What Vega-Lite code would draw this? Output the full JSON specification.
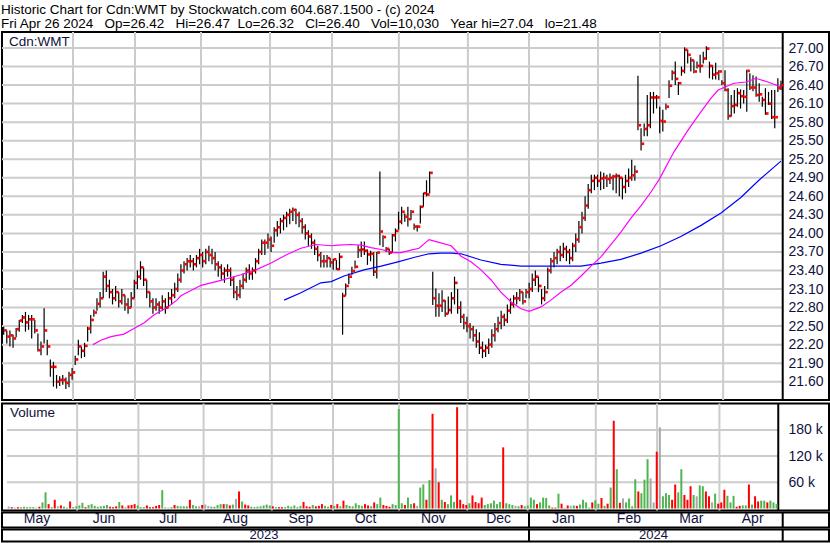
{
"$schema": "https://vega.github.io/schema/vega-lite/v6.json",
"background": "white",
"padding": {"left": 0, "top": 2, "right": 1, "bottom": 0},
"title": {"text": ["Historic Chart for Cdn:WMT by Stockwatch.com 604.687.1500 - (c) 2024", "Fri Apr 26 2024\u00a0\u00a0\u00a0Op=26.42\u00a0\u00a0\u00a0Hi=26.47\u00a0\u00a0Lo=26.32\u00a0\u00a0\u00a0Cl=26.40\u00a0\u00a0\u00a0Vol=10,030\u00a0\u00a0\u00a0Year hi=27.04\u00a0\u00a0\u00a0lo=21.48"], "anchor": "start", "font": "Liberation Sans", "fontSize": 13.5, "fontWeight": "normal", "color": "#000000", "lineHeight": 14, "offset": 0, "dx": 1},
"datasets": {
"p": [
{"t":1,"h":22.49,"l":22.36,"c":22.43,"v":4600,"k":"n"},
{"t":2,"h":22.43,"l":22.22,"c":22.33,"v":3000,"k":"d"},
{"t":3,"h":22.43,"l":22.17,"c":22.35,"v":2000,"k":"n"},
{"t":4,"h":22.36,"l":22.15,"c":22.30,"v":3000,"k":"d"},
{"t":5,"h":22.47,"l":22.32,"c":22.45,"v":3000,"k":"u"},
{"t":6,"h":22.60,"l":22.41,"c":22.59,"v":4000,"k":"u"},
{"t":7,"h":22.68,"l":22.55,"c":22.64,"v":3000,"k":"u"},
{"t":8,"h":22.73,"l":22.41,"c":22.56,"v":3000,"k":"u"},
{"t":9,"h":22.68,"l":22.44,"c":22.61,"v":3000,"k":"u"},
{"t":10,"h":22.68,"l":22.30,"c":22.61,"v":2000,"k":"n"},
{"t":11,"h":22.60,"l":22.38,"c":22.43,"v":4000,"k":"d"},
{"t":12,"h":22.38,"l":22.09,"c":22.11,"v":14000,"k":"u"},
{"t":13,"h":22.25,"l":22.03,"c":22.17,"v":37000,"k":"u"},
{"t":14,"h":22.79,"l":22.22,"c":22.43,"v":10000,"k":"d"},
{"t":15,"h":22.28,"l":22.03,"c":22.17,"v":3000,"k":"u"},
{"t":16,"h":21.96,"l":21.68,"c":21.84,"v":20000,"k":"d"},
{"t":17,"h":21.92,"l":21.52,"c":21.84,"v":5000,"k":"n"},
{"t":18,"h":21.71,"l":21.49,"c":21.60,"v":7000,"k":"d"},
{"t":19,"h":21.69,"l":21.53,"c":21.63,"v":4000,"k":"u"},
{"t":20,"h":21.71,"l":21.55,"c":21.63,"v":2000,"k":"u"},
{"t":21,"h":21.67,"l":21.48,"c":21.58,"v":16000,"k":"d"},
{"t":22,"h":21.76,"l":21.51,"c":21.71,"v":3000,"k":"u"},
{"t":23,"h":21.82,"l":21.63,"c":21.75,"v":5000,"k":"u"},
{"t":24,"h":22.02,"l":21.87,"c":21.96,"v":7000,"k":"u"},
{"t":25,"h":22.28,"l":22.03,"c":22.17,"v":13000,"k":"u"},
{"t":26,"h":22.17,"l":21.98,"c":22.10,"v":3000,"k":"d"},
{"t":27,"h":22.23,"l":22.00,"c":22.18,"v":8000,"k":"u"},
{"t":28,"h":22.49,"l":22.25,"c":22.46,"v":10000,"k":"u"},
{"t":29,"h":22.68,"l":22.38,"c":22.60,"v":6000,"k":"u"},
{"t":30,"h":22.77,"l":22.65,"c":22.72,"v":4000,"k":"u"},
{"t":31,"h":22.95,"l":22.75,"c":22.86,"v":5000,"k":"u"},
{"t":32,"h":23.05,"l":22.80,"c":22.95,"v":6000,"k":"u"},
{"t":33,"h":23.38,"l":22.95,"c":23.30,"v":8000,"k":"u"},
{"t":34,"h":23.40,"l":23.05,"c":23.15,"v":4000,"k":"d"},
{"t":35,"h":23.25,"l":22.95,"c":23.05,"v":3000,"k":"d"},
{"t":36,"h":23.10,"l":22.85,"c":22.95,"v":5000,"k":"d"},
{"t":37,"h":23.15,"l":22.90,"c":23.05,"v":15000,"k":"u"},
{"t":38,"h":23.05,"l":22.80,"c":22.90,"v":7000,"k":"d"},
{"t":39,"h":23.10,"l":22.85,"c":23.00,"v":3000,"k":"n"},
{"t":40,"h":23.00,"l":22.75,"c":22.85,"v":7000,"k":"d"},
{"t":41,"h":22.95,"l":22.70,"c":22.80,"v":8000,"k":"d"},
{"t":42,"h":23.05,"l":22.80,"c":22.95,"v":10000,"k":"d"},
{"t":43,"h":23.25,"l":22.95,"c":23.20,"v":7000,"k":"u"},
{"t":44,"h":23.40,"l":23.10,"c":23.30,"v":3000,"k":"u"},
{"t":45,"h":23.55,"l":23.25,"c":23.45,"v":3000,"k":"u"},
{"t":46,"h":23.45,"l":23.15,"c":23.25,"v":7000,"k":"d"},
{"t":47,"h":23.25,"l":22.95,"c":23.05,"v":3000,"k":"d"},
{"t":48,"h":23.05,"l":22.80,"c":22.90,"v":3000,"k":"d"},
{"t":49,"h":22.95,"l":22.70,"c":22.80,"v":6000,"k":"d"},
{"t":50,"h":22.95,"l":22.75,"c":22.85,"v":8000,"k":"d"},
{"t":51,"h":22.90,"l":22.70,"c":22.80,"v":42000,"k":"u"},
{"t":52,"h":23.00,"l":22.75,"c":22.90,"v":3000,"k":"n"},
{"t":53,"h":22.95,"l":22.70,"c":22.80,"v":2000,"k":"n"},
{"t":54,"h":23.05,"l":22.80,"c":22.95,"v":3000,"k":"u"},
{"t":55,"h":23.10,"l":22.85,"c":23.00,"v":8000,"k":"d"},
{"t":56,"h":23.20,"l":22.95,"c":23.10,"v":6000,"k":"u"},
{"t":57,"h":23.35,"l":23.05,"c":23.25,"v":5000,"k":"u"},
{"t":58,"h":23.50,"l":23.20,"c":23.40,"v":5000,"k":"u"},
{"t":59,"h":23.55,"l":23.35,"c":23.50,"v":5000,"k":"u"},
{"t":60,"h":23.60,"l":23.40,"c":23.55,"v":20000,"k":"d"},
{"t":61,"h":23.65,"l":23.45,"c":23.55,"v":8000,"k":"u"},
{"t":62,"h":23.60,"l":23.40,"c":23.50,"v":5000,"k":"u"},
{"t":63,"h":23.65,"l":23.45,"c":23.60,"v":5000,"k":"n"},
{"t":64,"h":23.75,"l":23.50,"c":23.65,"v":8000,"k":"d"},
{"t":65,"h":23.70,"l":23.45,"c":23.55,"v":9000,"k":"n"},
{"t":66,"h":23.75,"l":23.50,"c":23.70,"v":6000,"k":"n"},
{"t":67,"h":23.80,"l":23.55,"c":23.65,"v":4000,"k":"u"},
{"t":68,"h":23.75,"l":23.50,"c":23.60,"v":4000,"k":"u"},
{"t":69,"h":23.70,"l":23.40,"c":23.50,"v":8000,"k":"u"},
{"t":70,"h":23.55,"l":23.30,"c":23.45,"v":10000,"k":"u"},
{"t":71,"h":23.50,"l":23.25,"c":23.35,"v":10000,"k":"d"},
{"t":72,"h":23.45,"l":23.20,"c":23.40,"v":10000,"k":"u"},
{"t":73,"h":23.50,"l":23.30,"c":23.40,"v":7000,"k":"d"},
{"t":74,"h":23.45,"l":23.15,"c":23.25,"v":9000,"k":"u"},
{"t":75,"h":23.30,"l":22.95,"c":23.05,"v":22000,"k":"n"},
{"t":76,"h":23.15,"l":22.92,"c":23.00,"v":39000,"k":"d"},
{"t":77,"h":23.25,"l":22.95,"c":23.15,"v":16000,"k":"u"},
{"t":78,"h":23.35,"l":23.10,"c":23.25,"v":9000,"k":"d"},
{"t":79,"h":23.45,"l":23.20,"c":23.40,"v":7000,"k":"d"},
{"t":80,"h":23.50,"l":23.25,"c":23.35,"v":4000,"k":"u"},
{"t":81,"h":23.45,"l":23.25,"c":23.40,"v":3000,"k":"u"},
{"t":82,"h":23.60,"l":23.35,"c":23.55,"v":4000,"k":"u"},
{"t":83,"h":23.75,"l":23.50,"c":23.70,"v":5000,"k":"u"},
{"t":84,"h":23.90,"l":23.65,"c":23.85,"v":7000,"k":"u"},
{"t":85,"h":23.90,"l":23.65,"c":23.85,"v":9000,"k":"u"},
{"t":86,"h":24.00,"l":23.75,"c":23.90,"v":7000,"k":"u"},
{"t":87,"h":23.95,"l":23.70,"c":23.80,"v":5000,"k":"d"},
{"t":88,"h":24.10,"l":23.85,"c":24.05,"v":3000,"k":"u"},
{"t":89,"h":24.20,"l":23.95,"c":24.10,"v":3000,"k":"d"},
{"t":90,"h":24.25,"l":24.00,"c":24.20,"v":3000,"k":"d"},
{"t":91,"h":24.30,"l":24.05,"c":24.25,"v":3000,"k":"u"},
{"t":92,"h":24.35,"l":24.10,"c":24.30,"v":6000,"k":"u"},
{"t":93,"h":24.40,"l":24.15,"c":24.35,"v":4000,"k":"u"},
{"t":94,"h":24.42,"l":24.20,"c":24.38,"v":7000,"k":"u"},
{"t":95,"h":24.40,"l":24.15,"c":24.30,"v":3000,"k":"u"},
{"t":96,"h":24.35,"l":24.10,"c":24.20,"v":6000,"k":"u"},
{"t":97,"h":24.25,"l":24.00,"c":24.10,"v":15000,"k":"d"},
{"t":98,"h":24.15,"l":23.90,"c":24.00,"v":5000,"k":"d"},
{"t":99,"h":24.05,"l":23.80,"c":23.95,"v":4000,"k":"d"},
{"t":100,"h":24.00,"l":23.75,"c":23.85,"v":8000,"k":"u"},
{"t":101,"h":23.90,"l":23.65,"c":23.75,"v":5000,"k":"d"},
{"t":102,"h":23.80,"l":23.55,"c":23.65,"v":6000,"k":"d"},
{"t":103,"h":23.70,"l":23.45,"c":23.55,"v":10000,"k":"d"},
{"t":104,"h":23.65,"l":23.45,"c":23.55,"v":6000,"k":"u"},
{"t":105,"h":23.65,"l":23.45,"c":23.60,"v":4000,"k":"u"},
{"t":106,"h":23.60,"l":23.45,"c":23.53,"v":8000,"k":"d"},
{"t":107,"h":23.59,"l":23.41,"c":23.58,"v":6000,"k":"u"},
{"t":108,"h":23.57,"l":23.41,"c":23.42,"v":10000,"k":"d"},
{"t":109,"h":23.68,"l":23.41,"c":23.62,"v":5000,"k":"u"},
{"t":110,"h":23.04,"l":22.36,"c":22.99,"v":18000,"k":"d"},
{"t":111,"h":23.19,"l":22.99,"c":23.15,"v":8000,"k":"u"},
{"t":112,"h":23.35,"l":23.18,"c":23.30,"v":6000,"k":"u"},
{"t":113,"h":23.46,"l":23.33,"c":23.39,"v":5000,"k":"u"},
{"t":114,"h":23.56,"l":23.43,"c":23.46,"v":12000,"k":"u"},
{"t":115,"h":23.81,"l":23.60,"c":23.73,"v":8000,"k":"u"},
{"t":116,"h":23.87,"l":23.62,"c":23.74,"v":6000,"k":"u"},
{"t":117,"h":23.87,"l":23.65,"c":23.72,"v":10000,"k":"d"},
{"t":118,"h":23.74,"l":23.49,"c":23.66,"v":7000,"k":"d"},
{"t":119,"h":23.72,"l":23.55,"c":23.67,"v":5000,"k":"u"},
{"t":120,"h":23.70,"l":23.31,"c":23.38,"v":14000,"k":"d"},
{"t":121,"h":23.70,"l":23.27,"c":23.69,"v":10000,"k":"u"},
{"t":122,"h":25.00,"l":23.81,"c":24.03,"v":25000,"k":"u"},
{"t":123,"h":23.97,"l":23.78,"c":23.94,"v":8000,"k":"d"},
{"t":124,"h":23.78,"l":23.70,"c":23.75,"v":6000,"k":"d"},
{"t":125,"h":23.75,"l":23.65,"c":23.69,"v":4000,"k":"d"},
{"t":126,"h":23.99,"l":23.70,"c":23.97,"v":10000,"k":"u"},
{"t":127,"h":24.08,"l":23.87,"c":24.04,"v":8000,"k":"u"},
{"t":128,"h":24.35,"l":24.06,"c":24.19,"v":228000,"k":"u"},
{"t":129,"h":24.43,"l":24.15,"c":24.35,"v":12000,"k":"u"},
{"t":130,"h":24.32,"l":24.19,"c":24.27,"v":8000,"k":"d"},
{"t":131,"h":24.43,"l":24.11,"c":24.23,"v":25000,"k":"u"},
{"t":132,"h":24.38,"l":24.22,"c":24.35,"v":10000,"k":"u"},
{"t":133,"h":24.16,"l":24.06,"c":24.11,"v":12000,"k":"d"},
{"t":134,"h":24.13,"l":24.03,"c":24.11,"v":6000,"k":"n"},
{"t":135,"h":24.45,"l":24.16,"c":24.43,"v":48000,"k":"u"},
{"t":136,"h":24.66,"l":24.43,"c":24.65,"v":55000,"k":"u"},
{"t":137,"h":24.86,"l":24.60,"c":24.63,"v":20000,"k":"d"},
{"t":138,"h":25.00,"l":24.65,"c":24.98,"v":65000,"k":"u"},
{"t":139,"h":23.38,"l":22.84,"c":22.95,"v":217000,"k":"d"},
{"t":140,"h":23.11,"l":22.65,"c":22.83,"v":92000,"k":"n"},
{"t":141,"h":23.03,"l":22.65,"c":22.83,"v":60000,"k":"d"},
{"t":142,"h":23.08,"l":22.73,"c":22.91,"v":20000,"k":"u"},
{"t":143,"h":22.92,"l":22.65,"c":22.70,"v":15000,"k":"d"},
{"t":144,"h":22.98,"l":22.70,"c":22.76,"v":10000,"k":"u"},
{"t":145,"h":23.05,"l":22.70,"c":22.95,"v":30000,"k":"u"},
{"t":146,"h":23.30,"l":22.85,"c":23.20,"v":15000,"k":"u"},
{"t":147,"h":23.10,"l":22.70,"c":22.80,"v":232000,"k":"d"},
{"t":148,"h":22.90,"l":22.55,"c":22.65,"v":20000,"k":"d"},
{"t":149,"h":22.70,"l":22.45,"c":22.55,"v":10000,"k":"d"},
{"t":150,"h":22.65,"l":22.40,"c":22.50,"v":8000,"k":"d"},
{"t":151,"h":22.55,"l":22.30,"c":22.45,"v":12000,"k":"u"},
{"t":152,"h":22.50,"l":22.25,"c":22.35,"v":30000,"k":"d"},
{"t":153,"h":22.45,"l":22.15,"c":22.25,"v":15000,"k":"d"},
{"t":154,"h":22.40,"l":22.05,"c":22.15,"v":12000,"k":"d"},
{"t":155,"h":22.25,"l":21.98,"c":22.10,"v":25000,"k":"d"},
{"t":156,"h":22.20,"l":22.00,"c":22.15,"v":8000,"k":"u"},
{"t":157,"h":22.30,"l":22.05,"c":22.20,"v":10000,"k":"u"},
{"t":158,"h":22.45,"l":22.15,"c":22.35,"v":12000,"k":"u"},
{"t":159,"h":22.55,"l":22.25,"c":22.45,"v":18000,"k":"u"},
{"t":160,"h":22.65,"l":22.40,"c":22.55,"v":10000,"k":"u"},
{"t":161,"h":22.75,"l":22.45,"c":22.65,"v":15000,"k":"u"},
{"t":162,"h":22.70,"l":22.50,"c":22.60,"v":140000,"k":"d"},
{"t":163,"h":22.85,"l":22.55,"c":22.75,"v":12000,"k":"u"},
{"t":164,"h":22.95,"l":22.70,"c":22.85,"v":10000,"k":"u"},
{"t":165,"h":23.00,"l":22.80,"c":22.95,"v":8000,"k":"u"},
{"t":166,"h":23.05,"l":22.85,"c":22.95,"v":6000,"k":"n"},
{"t":167,"h":23.10,"l":22.90,"c":23.05,"v":5000,"k":"u"},
{"t":168,"h":23.05,"l":22.85,"c":22.90,"v":8000,"k":"d"},
{"t":169,"h":23.10,"l":22.95,"c":23.05,"v":5000,"k":"u"},
{"t":170,"h":23.20,"l":22.95,"c":23.10,"v":7000,"k":"u"},
{"t":171,"h":23.35,"l":23.05,"c":23.25,"v":25000,"k":"u"},
{"t":172,"h":23.40,"l":23.15,"c":23.30,"v":20000,"k":"u"},
{"t":173,"h":23.30,"l":23.05,"c":23.15,"v":10000,"k":"d"},
{"t":174,"h":23.10,"l":22.85,"c":22.95,"v":14000,"k":"u"},
{"t":175,"h":23.15,"l":22.90,"c":23.05,"v":25000,"k":"u"},
{"t":176,"h":23.45,"l":23.10,"c":23.40,"v":24000,"k":"u"},
{"t":177,"h":23.60,"l":23.35,"c":23.55,"v":7000,"k":"u"},
{"t":178,"h":23.70,"l":23.45,"c":23.60,"v":2000,"k":"d"},
{"t":179,"h":23.75,"l":23.50,"c":23.70,"v":2000,"k":"d"},
{"t":180,"h":23.80,"l":23.55,"c":23.65,"v":34000,"k":"u"},
{"t":181,"h":23.85,"l":23.60,"c":23.75,"v":11000,"k":"d"},
{"t":182,"h":23.80,"l":23.55,"c":23.70,"v":1500,"k":"u"},
{"t":183,"h":23.75,"l":23.50,"c":23.60,"v":7000,"k":"d"},
{"t":184,"h":23.85,"l":23.55,"c":23.80,"v":6000,"k":"n"},
{"t":185,"h":24.00,"l":23.70,"c":23.90,"v":7000,"k":"u"},
{"t":186,"h":24.20,"l":23.85,"c":24.10,"v":6000,"k":"d"},
{"t":187,"h":24.35,"l":24.00,"c":24.25,"v":9000,"k":"u"},
{"t":188,"h":24.60,"l":24.20,"c":24.45,"v":20000,"k":"u"},
{"t":189,"h":24.80,"l":24.40,"c":24.70,"v":14000,"k":"u"},
{"t":190,"h":24.95,"l":24.65,"c":24.85,"v":2000,"k":"u"},
{"t":191,"h":24.95,"l":24.70,"c":24.90,"v":14000,"k":"d"},
{"t":192,"h":24.95,"l":24.75,"c":24.85,"v":19000,"k":"u"},
{"t":193,"h":25.00,"l":24.70,"c":24.89,"v":11000,"k":"u"},
{"t":194,"h":24.98,"l":24.72,"c":24.90,"v":24000,"k":"d"},
{"t":195,"h":24.95,"l":24.75,"c":24.88,"v":6000,"k":"u"},
{"t":196,"h":24.97,"l":24.80,"c":24.90,"v":11000,"k":"d"},
{"t":197,"h":24.95,"l":24.70,"c":24.92,"v":48000,"k":"u"},
{"t":198,"h":24.97,"l":24.65,"c":24.93,"v":201000,"k":"d"},
{"t":199,"h":24.95,"l":24.60,"c":24.90,"v":90000,"k":"u"},
{"t":200,"h":24.90,"l":24.55,"c":24.75,"v":13000,"k":"d"},
{"t":201,"h":24.95,"l":24.65,"c":24.85,"v":23000,"k":"n"},
{"t":202,"h":25.05,"l":24.75,"c":24.90,"v":14000,"k":"u"},
{"t":203,"h":25.19,"l":24.85,"c":24.94,"v":23000,"k":"u"},
{"t":204,"h":25.10,"l":24.85,"c":25.00,"v":5000,"k":"u"},
{"t":205,"h":26.55,"l":25.67,"c":25.75,"v":67000,"k":"u"},
{"t":206,"h":25.70,"l":25.34,"c":25.45,"v":39000,"k":"d"},
{"t":207,"h":25.78,"l":25.57,"c":25.69,"v":35000,"k":"u"},
{"t":208,"h":26.24,"l":25.57,"c":25.75,"v":66000,"k":"u"},
{"t":209,"h":26.29,"l":25.70,"c":26.20,"v":113000,"k":"u"},
{"t":210,"h":26.29,"l":25.94,"c":26.20,"v":69000,"k":"n"},
{"t":211,"h":26.24,"l":26.02,"c":26.20,"v":14000,"k":"n"},
{"t":212,"h":26.05,"l":25.62,"c":25.82,"v":130000,"k":"d"},
{"t":213,"h":26.00,"l":25.65,"c":25.81,"v":186000,"k":"n"},
{"t":214,"h":26.10,"l":26.00,"c":26.05,"v":28000,"k":"u"},
{"t":215,"h":26.48,"l":26.19,"c":26.39,"v":35000,"k":"u"},
{"t":216,"h":26.64,"l":26.48,"c":26.60,"v":31000,"k":"u"},
{"t":217,"h":26.78,"l":26.40,"c":26.50,"v":20000,"k":"d"},
{"t":218,"h":26.45,"l":26.24,"c":26.43,"v":55000,"k":"d"},
{"t":219,"h":26.70,"l":26.55,"c":26.63,"v":37000,"k":"u"},
{"t":220,"h":27.01,"l":26.59,"c":26.97,"v":90000,"k":"u"},
{"t":221,"h":26.97,"l":26.75,"c":26.89,"v":31000,"k":"d"},
{"t":222,"h":26.85,"l":26.62,"c":26.80,"v":20000,"k":"d"},
{"t":223,"h":26.80,"l":26.59,"c":26.62,"v":51000,"k":"d"},
{"t":224,"h":26.78,"l":26.67,"c":26.71,"v":31000,"k":"u"},
{"t":225,"h":26.89,"l":26.60,"c":26.71,"v":28000,"k":"n"},
{"t":226,"h":26.94,"l":26.75,"c":26.83,"v":53000,"k":"u"},
{"t":227,"h":27.03,"l":26.81,"c":26.99,"v":51000,"k":"u"},
{"t":228,"h":26.78,"l":26.51,"c":26.71,"v":39000,"k":"d"},
{"t":229,"h":26.72,"l":26.49,"c":26.57,"v":28000,"k":"d"},
{"t":230,"h":26.76,"l":26.49,"c":26.59,"v":14000,"k":"n"},
{"t":231,"h":26.64,"l":26.48,"c":26.62,"v":34000,"k":"u"},
{"t":232,"h":26.48,"l":26.40,"c":26.43,"v":11000,"k":"d"},
{"t":233,"h":26.64,"l":26.30,"c":26.32,"v":14000,"k":"d"},
{"t":234,"h":26.35,"l":25.84,"c":25.90,"v":43000,"k":"d"},
{"t":235,"h":26.24,"l":25.89,"c":26.06,"v":29000,"k":"u"},
{"t":236,"h":26.32,"l":25.94,"c":26.08,"v":14000,"k":"u"},
{"t":237,"h":26.35,"l":26.05,"c":26.27,"v":29000,"k":"u"},
{"t":238,"h":26.33,"l":26.02,"c":26.22,"v":4000,"k":"d"},
{"t":239,"h":26.32,"l":26.10,"c":26.21,"v":6000,"k":"d"},
{"t":240,"h":26.65,"l":25.97,"c":26.63,"v":7000,"k":"u"},
{"t":241,"h":26.59,"l":26.32,"c":26.36,"v":7000,"k":"u"},
{"t":242,"h":26.56,"l":26.30,"c":26.36,"v":55000,"k":"d"},
{"t":243,"h":26.54,"l":26.21,"c":26.24,"v":9000,"k":"u"},
{"t":244,"h":26.43,"l":26.13,"c":26.25,"v":28000,"k":"d"},
{"t":245,"h":26.21,"l":26.05,"c":26.16,"v":16000,"k":"d"},
{"t":246,"h":26.35,"l":25.92,"c":25.94,"v":18000,"k":"u"},
{"t":247,"h":26.29,"l":26.08,"c":26.10,"v":18000,"k":"u"},
{"t":248,"h":26.32,"l":25.85,"c":25.88,"v":14000,"k":"d"},
{"t":249,"h":26.32,"l":25.70,"c":25.88,"v":18000,"k":"u"},
{"t":250,"h":26.51,"l":26.29,"c":26.35,"v":14000,"k":"u"},
{"t":251,"h":26.47,"l":26.32,"c":26.40,"v":10030,"k":"u"}
],
"pk": [
{"t":29.7,"m":22.20},{"t":32.3,"m":22.27},{"t":35.5,"m":22.33},{"t":39.7,"m":22.37},{"t":42.9,"m":22.46},{"t":46.1,"m":22.55},{"t":49.3,"m":22.68},{"t":53.8,"m":22.81},{"t":56.7,"m":22.92},{"t":58,"m":22.99},{"t":64.5,"m":23.16},{"t":70.9,"m":23.24},{"t":77.3,"m":23.33},{"t":82.1,"m":23.41},{"t":87,"m":23.52},{"t":91.8,"m":23.65},{"t":96.6,"m":23.76},{"t":101.4,"m":23.82},{"t":106.3,"m":23.80},{"t":108.5,"m":23.81},{"t":112.7,"m":23.82},{"t":115.9,"m":23.81},{"t":119.1,"m":23.77},{"t":122.4,"m":23.74},{"t":126.5,"m":23.69},{"t":128.8,"m":23.69},{"t":132,"m":23.73},{"t":134.6,"m":23.76},{"t":136.2,"m":23.83},{"t":137.8,"m":23.90},{"t":140.7,"m":23.86},{"t":144.9,"m":23.80},{"t":148.1,"m":23.63},{"t":151.3,"m":23.54},{"t":154.5,"m":23.41},{"t":157.7,"m":23.25},{"t":160.9,"m":23.05},{"t":164.2,"m":22.89},{"t":167.4,"m":22.78},{"t":170,"m":22.74},{"t":173.8,"m":22.81},{"t":177,"m":22.92},{"t":180.3,"m":23.05},{"t":183.5,"m":23.16},{"t":186.7,"m":23.31},{"t":189.9,"m":23.47},{"t":193.1,"m":23.62},{"t":196.3,"m":23.82},{"t":199.5,"m":24.02},{"t":202.8,"m":24.25},{"t":206,"m":24.45},{"t":209.2,"m":24.67},{"t":211.8,"m":24.87},{"t":216.6,"m":25.32},{"t":221.1,"m":25.67},{"t":225.3,"m":25.97},{"t":228.5,"m":26.19},{"t":230.8,"m":26.32},{"t":232.7,"m":26.36},{"t":235.9,"m":26.43},{"t":239.8,"m":26.45},{"t":243,"m":26.51},{"t":246.8,"m":26.45},{"t":251,"m":26.37}
],
"bl": [
{"t":91.2,"m":22.92},{"t":96.6,"m":23.04},{"t":103,"m":23.20},{"t":106.3,"m":23.22},{"t":110.5,"m":23.31},{"t":116.9,"m":23.41},{"t":122.4,"m":23.47},{"t":127.8,"m":23.54},{"t":132.9,"m":23.61},{"t":137.8,"m":23.67},{"t":141.6,"m":23.68},{"t":144.9,"m":23.68},{"t":148.1,"m":23.67},{"t":154.5,"m":23.57},{"t":160.9,"m":23.50},{"t":167.4,"m":23.47},{"t":173.8,"m":23.47},{"t":180.3,"m":23.47},{"t":186.7,"m":23.47},{"t":193.1,"m":23.52},{"t":199.5,"m":23.58},{"t":206,"m":23.68},{"t":212.4,"m":23.80},{"t":218.8,"m":23.95},{"t":225.3,"m":24.13},{"t":231.7,"m":24.33},{"t":238.1,"m":24.58},{"t":243.9,"m":24.86},{"t":251,"m":25.17}
],
"mg": [{"t":23.29},{"t":43.23},{"t":64.46},{"t":86.65},{"t":106.6},{"t":128.1},{"t":150.3},{"t":169.96},{"t":192.15},{"t":212.1},{"t":232.4}],
"ml": [{"m":"May","t":11.71},{"m":"Jun","t":33.26},{"m":"Jul","t":53.9},{"m":"Aug","t":75.55},{"m":"Sep","t":96.6},{"m":"Oct","t":117.4},{"m":"Nov","t":139.2},{"m":"Dec","t":160.2},{"m":"Jan","t":181.1},{"m":"Feb","t":202.1},{"m":"Mar","t":222.2},{"m":"Apr","t":241.9}],
"yl": [{"m":"2023","t":84.7},{"m":"2024","t":210.0}],
"hg": [{"p":21.6},{"p":21.9},{"p":22.2},{"p":22.5},{"p":22.8},{"p":23.1},{"p":23.4},{"p":23.7},{"p":24.0},{"p":24.3},{"p":24.6},{"p":24.9},{"p":25.2},{"p":25.5},{"p":25.8},{"p":26.1},{"p":26.4},{"p":26.7},{"p":27.0}],
"vg": [{"p":60000},{"p":120000},{"p":180000}]
},
"spacing": -0.5,
"vconcat": [
{
"width": 827, "height": 368,
"title": {"text": "Cdn:WMT", "anchor": "start", "orient": "top", "offset": -17, "dx": 8, "font": "Liberation Sans", "fontSize": 13.5, "fontWeight": "normal", "color": "#101040"},
"encoding": {
 "y": {"type": "quantitative", "scale": {"domain": [21.304, 27.259], "nice": false, "zero": false},
   "axis": {"orient": "right", "offset": -41, "values": [21.6,21.9,22.2,22.5,22.8,23.1,23.4,23.7,24.0,24.3,24.6,24.9,25.2,25.5,25.8,26.1,26.4,26.7,27.0], "format": ".2f", "grid": false, "ticks": false, "domain": false, "labelPadding": 0, "labelFont": "Liberation Sans", "labelFontSize": 14, "labelColor": "#101040", "labelAlign": "left", "title": null}},
 "x": {"type": "quantitative", "scale": {"domain": [0.453, 266.45], "nice": false, "zero": false}, "axis": null}
},
"layer": [
{"data": {"name": "hg"}, "mark": {"type": "rule", "color": "#cccccc", "strokeWidth": 2},
 "encoding": {"y": {"field": "p"}, "x": {"datum": 0.453}, "x2": {"datum": 251.56}}},
{"data": {"name": "mg"}, "mark": {"type": "rule", "color": "#cccccc", "strokeWidth": 2},
 "encoding": {"x": {"field": "t"}, "y": null}},
{"data": {"values": [{"t": 251.56}]}, "mark": {"type": "rule", "color": "black", "strokeWidth": 2},
 "encoding": {"x": {"field": "t"}, "y": null}},
{"data": {"name": "p"}, "mark": {"type": "rule", "color": "black", "strokeWidth": 1.2},
 "encoding": {"x": {"field": "t"}, "y": {"field": "l"}, "y2": {"field": "h"}}},
{"data": {"name": "bl"}, "mark": {"type": "line", "color": "#0000ff", "strokeWidth": 1.2},
 "encoding": {"x": {"field": "t"}, "y": {"field": "m"}}},
{"data": {"name": "pk"}, "mark": {"type": "line", "color": "#ff00ff", "strokeWidth": 1.2},
 "encoding": {"x": {"field": "t"}, "y": {"field": "m"}}},
{"data": {"name": "p"}, "mark": {"type": "point", "shape": "square", "filled": true, "color": "#ff0000", "size": 7, "opacity": 1, "xOffset": 1.8},
 "encoding": {"x": {"field": "t"}, "y": {"field": "c"}}}
]
},
{
"spacing": -3.5,
"vconcat": [
{
"width": 827, "height": 107,
"title": {"text": "Volume", "anchor": "start", "orient": "top", "offset": -17, "dx": 8, "font": "Liberation Sans", "fontSize": 13.5, "fontWeight": "normal", "color": "#101040"},
"encoding": {
 "y": {"type": "quantitative", "scale": {"domain": [-4600, 240500], "nice": false, "zero": false},
   "axis": {"orient": "right", "offset": -41, "values": [60000, 120000, 180000], "labelExpr": "datum.value/1000 + ' k'", "grid": false, "ticks": false, "domain": false, "labelPadding": 0, "labelFont": "Liberation Sans", "labelFontSize": 14, "labelColor": "#101040", "labelAlign": "left", "title": null}},
 "x": {"type": "quantitative", "scale": {"domain": [0.453, 266.45], "nice": false, "zero": false}, "axis": null}
},
"layer": [
{"data": {"name": "vg"}, "mark": {"type": "rule", "color": "#cccccc", "strokeWidth": 2},
 "encoding": {"y": {"field": "p"}, "x": {"datum": 0.453}, "x2": {"datum": 251.56}}},
{"data": {"name": "mg"}, "mark": {"type": "rule", "color": "#cccccc", "strokeWidth": 2},
 "encoding": {"x": {"field": "t"}, "y": null}},
{"data": {"values": [{"t": 251.56}]}, "mark": {"type": "rule", "color": "black", "strokeWidth": 2},
 "encoding": {"x": {"field": "t"}, "y": null}},
{"data": {"name": "p"}, "mark": {"type": "bar", "width": 2},
 "encoding": {"x": {"field": "t"}, "y": {"field": "v"}, "y2": {"datum": 0},
  "color": {"field": "k", "type": "nominal", "scale": {"domain": ["u", "d", "n"], "range": ["#50b450", "#ff0000", "#a8a8a8"]}, "legend": null}}}
]
},
{
"width": 827, "height": 15,
"encoding": {"x": {"type": "quantitative", "scale": {"domain": [0.453, 266.45], "nice": false, "zero": false}, "axis": null}},
"layer": [
{"data": {"name": "ml"}, "mark": {"type": "text", "font": "Liberation Sans", "fontSize": 14, "color": "#101040", "baseline": "middle", "align": "center", "dy": -1.5},
 "encoding": {"x": {"field": "t"}, "text": {"field": "m"}}},
{"data": {"values": [{"t": 169.96}, {"t": 251.56}]}, "mark": {"type": "rule", "color": "black", "strokeWidth": 2},
 "encoding": {"x": {"field": "t"}}}
]
},
{
"width": 827, "height": 12,
"encoding": {"x": {"type": "quantitative", "scale": {"domain": [0.453, 266.45], "nice": false, "zero": false}, "axis": null}},
"layer": [
{"data": {"name": "yl"}, "mark": {"type": "text", "font": "Liberation Sans", "fontSize": 13, "color": "#101040", "baseline": "middle", "align": "center", "dy": -1},
 "encoding": {"x": {"field": "t"}, "text": {"field": "m"}}},
{"data": {"values": [{"t": 169.96}, {"t": 251.56}]}, "mark": {"type": "rule", "color": "black", "strokeWidth": 2},
 "encoding": {"x": {"field": "t"}}}
]
}
]
}
],
"config": {"view": {"stroke": "black", "strokeWidth": 2}}
}
